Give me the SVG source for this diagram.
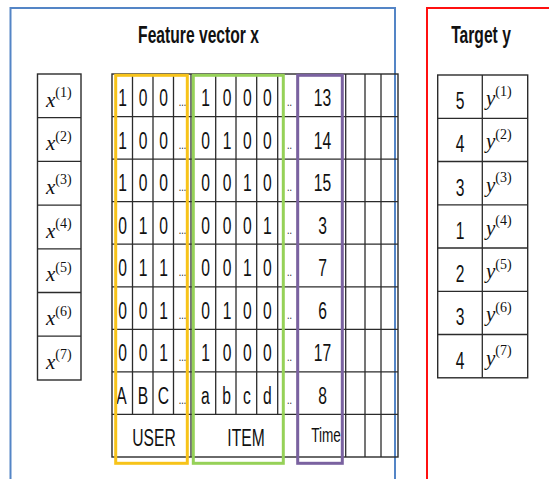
<svg xmlns="http://www.w3.org/2000/svg" width="549" height="479" viewBox="0 0 549 479">
  <style>
    .grid line, .tbl line { stroke: #2b2b2b; stroke-width: 1.3; }
    .tbl rect, .grid rect { fill: none; stroke: #2b2b2b; stroke-width: 1.4; }
    text { font-family: "Liberation Sans", Arial, sans-serif; fill: #111; text-anchor: middle; }
    .t { font-size: 23px; font-weight: bold; }
    .n { font-size: 23px; }
    .w { font-size: 23px; }
    .s { font-size: 20px; }
    .d { font-size: 13px; }
    .m { font-family: "Liberation Serif", "Times New Roman", serif; font-style: italic; font-size: 21px; text-anchor: start; }
    .m tspan { font-style: normal; font-size: 14px; }
    .frame { fill: none; stroke-width: 2; }
    .hl { fill: none; stroke-width: 3; }
  </style>

  <rect width="549" height="479" fill="#fff"/>

  <!-- outer panels -->
  <g id="feature-panel">
    <rect class="frame" x="10.5" y="8" width="384.5" height="472" stroke="#5485c6"/>
    <text class="t" transform="translate(198.5 43) scale(.68 1)">Feature vector x</text>
  </g>
  <g id="target-panel">
    <rect class="frame" x="427" y="8" width="130" height="472" stroke="#ff1010"/>
    <text class="t" transform="translate(481 43) scale(.68 1)">Target y</text>
  </g>

  <!-- sample index column x(1)..x(7) -->
  <g id="samples" class="tbl">
    <rect x="37.5" y="74" width="43.5" height="306"/>
    <line x1="37.5" y1="117.7" x2="81" y2="117.7"/>
    <line x1="37.5" y1="161.4" x2="81" y2="161.4"/>
    <line x1="37.5" y1="205.1" x2="81" y2="205.1"/>
    <line x1="37.5" y1="248.8" x2="81" y2="248.8"/>
    <line x1="37.5" y1="292.5" x2="81" y2="292.5"/>
    <line x1="37.5" y1="336.2" x2="81" y2="336.2"/>
    <text class="m" x="46" y="106.5">x<tspan dy="-9.5">(1)</tspan></text>
    <text class="m" x="46" y="150.2">x<tspan dy="-9.5">(2)</tspan></text>
    <text class="m" x="46" y="193.9">x<tspan dy="-9.5">(3)</tspan></text>
    <text class="m" x="46" y="237.6">x<tspan dy="-9.5">(4)</tspan></text>
    <text class="m" x="46" y="281.3">x<tspan dy="-9.5">(5)</tspan></text>
    <text class="m" x="46" y="325">x<tspan dy="-9.5">(6)</tspan></text>
    <text class="m" x="46" y="368.7">x<tspan dy="-9.5">(7)</tspan></text>
  </g>

  <!-- feature matrix -->
  <g id="features" class="grid">
    <rect x="112" y="74" width="286" height="383"/>
    <!-- row rules -->
    <line x1="112" y1="116.6" x2="398" y2="116.6"/>
    <line x1="112" y1="159.1" x2="398" y2="159.1"/>
    <line x1="112" y1="201.7" x2="398" y2="201.7"/>
    <line x1="112" y1="244.2" x2="398" y2="244.2"/>
    <line x1="112" y1="286.8" x2="398" y2="286.8"/>
    <line x1="112" y1="329.3" x2="398" y2="329.3"/>
    <line x1="112" y1="371.9" x2="398" y2="371.9"/>
    <line x1="112" y1="414.4" x2="398" y2="414.4"/>
    <!-- column rules inside the one-hot blocks -->
    <line x1="132.5" y1="74" x2="132.5" y2="414.4"/>
    <line x1="153" y1="74" x2="153" y2="414.4"/>
    <line x1="173.5" y1="74" x2="173.5" y2="414.4"/>
    <line x1="215.7" y1="74" x2="215.7" y2="414.4"/>
    <line x1="236" y1="74" x2="236" y2="414.4"/>
    <line x1="256.7" y1="74" x2="256.7" y2="414.4"/>
    <line x1="277.7" y1="74" x2="277.7" y2="414.4"/>
    <!-- block separators, full height -->
    <line x1="191" y1="74" x2="191" y2="457"/>
    <line x1="297.5" y1="74" x2="297.5" y2="457"/>
    <line x1="345.7" y1="74" x2="345.7" y2="457"/>
    <line x1="365" y1="74" x2="365" y2="457"/>
    <line x1="381" y1="74" x2="381" y2="457"/>

    <!-- row 1 -->
    <text class="n" transform="translate(122.5 106) scale(.68 1)">1</text>
    <text class="n" transform="translate(143.2 106) scale(.68 1)">0</text>
    <text class="n" transform="translate(163.6 106) scale(.68 1)">0</text>
    <text class="d" transform="translate(182.5 106) scale(.68 1)">...</text>
    <text class="n" transform="translate(205.5 106) scale(.68 1)">1</text>
    <text class="n" transform="translate(227 106) scale(.68 1)">0</text>
    <text class="n" transform="translate(247.3 106) scale(.68 1)">0</text>
    <text class="n" transform="translate(267.3 106) scale(.68 1)">0</text>
    <text class="d" transform="translate(289.5 106) scale(.68 1)">..</text>
    <text class="n" transform="translate(322.5 106) scale(.68 1)">13</text>
    <!-- row 2 -->
    <text class="n" transform="translate(122.5 148.6) scale(.68 1)">1</text>
    <text class="n" transform="translate(143.2 148.6) scale(.68 1)">0</text>
    <text class="n" transform="translate(163.6 148.6) scale(.68 1)">0</text>
    <text class="d" transform="translate(182.5 148.6) scale(.68 1)">...</text>
    <text class="n" transform="translate(205.5 148.6) scale(.68 1)">0</text>
    <text class="n" transform="translate(227 148.6) scale(.68 1)">1</text>
    <text class="n" transform="translate(247.3 148.6) scale(.68 1)">0</text>
    <text class="n" transform="translate(267.3 148.6) scale(.68 1)">0</text>
    <text class="d" transform="translate(289.5 148.6) scale(.68 1)">..</text>
    <text class="n" transform="translate(322.5 148.6) scale(.68 1)">14</text>
    <!-- row 3 -->
    <text class="n" transform="translate(122.5 191.1) scale(.68 1)">1</text>
    <text class="n" transform="translate(143.2 191.1) scale(.68 1)">0</text>
    <text class="n" transform="translate(163.6 191.1) scale(.68 1)">0</text>
    <text class="d" transform="translate(182.5 191.1) scale(.68 1)">...</text>
    <text class="n" transform="translate(205.5 191.1) scale(.68 1)">0</text>
    <text class="n" transform="translate(227 191.1) scale(.68 1)">0</text>
    <text class="n" transform="translate(247.3 191.1) scale(.68 1)">1</text>
    <text class="n" transform="translate(267.3 191.1) scale(.68 1)">0</text>
    <text class="d" transform="translate(289.5 191.1) scale(.68 1)">..</text>
    <text class="n" transform="translate(322.5 191.1) scale(.68 1)">15</text>
    <!-- row 4 -->
    <text class="n" transform="translate(122.5 233.7) scale(.68 1)">0</text>
    <text class="n" transform="translate(143.2 233.7) scale(.68 1)">1</text>
    <text class="n" transform="translate(163.6 233.7) scale(.68 1)">0</text>
    <text class="d" transform="translate(182.5 233.7) scale(.68 1)">...</text>
    <text class="n" transform="translate(205.5 233.7) scale(.68 1)">0</text>
    <text class="n" transform="translate(227 233.7) scale(.68 1)">0</text>
    <text class="n" transform="translate(247.3 233.7) scale(.68 1)">0</text>
    <text class="n" transform="translate(267.3 233.7) scale(.68 1)">1</text>
    <text class="d" transform="translate(289.5 233.7) scale(.68 1)">..</text>
    <text class="n" transform="translate(322.5 233.7) scale(.68 1)">3</text>
    <!-- row 5 -->
    <text class="n" transform="translate(122.5 276.2) scale(.68 1)">0</text>
    <text class="n" transform="translate(143.2 276.2) scale(.68 1)">1</text>
    <text class="n" transform="translate(163.6 276.2) scale(.68 1)">1</text>
    <text class="d" transform="translate(182.5 276.2) scale(.68 1)">...</text>
    <text class="n" transform="translate(205.5 276.2) scale(.68 1)">0</text>
    <text class="n" transform="translate(227 276.2) scale(.68 1)">0</text>
    <text class="n" transform="translate(247.3 276.2) scale(.68 1)">1</text>
    <text class="n" transform="translate(267.3 276.2) scale(.68 1)">0</text>
    <text class="d" transform="translate(289.5 276.2) scale(.68 1)">..</text>
    <text class="n" transform="translate(322.5 276.2) scale(.68 1)">7</text>
    <!-- row 6 -->
    <text class="n" transform="translate(122.5 318.8) scale(.68 1)">0</text>
    <text class="n" transform="translate(143.2 318.8) scale(.68 1)">0</text>
    <text class="n" transform="translate(163.6 318.8) scale(.68 1)">1</text>
    <text class="d" transform="translate(182.5 318.8) scale(.68 1)">...</text>
    <text class="n" transform="translate(205.5 318.8) scale(.68 1)">0</text>
    <text class="n" transform="translate(227 318.8) scale(.68 1)">1</text>
    <text class="n" transform="translate(247.3 318.8) scale(.68 1)">0</text>
    <text class="n" transform="translate(267.3 318.8) scale(.68 1)">0</text>
    <text class="d" transform="translate(289.5 318.8) scale(.68 1)">..</text>
    <text class="n" transform="translate(322.5 318.8) scale(.68 1)">6</text>
    <!-- row 7 -->
    <text class="n" transform="translate(122.5 361.3) scale(.68 1)">0</text>
    <text class="n" transform="translate(143.2 361.3) scale(.68 1)">0</text>
    <text class="n" transform="translate(163.6 361.3) scale(.68 1)">1</text>
    <text class="d" transform="translate(182.5 361.3) scale(.68 1)">...</text>
    <text class="n" transform="translate(205.5 361.3) scale(.68 1)">1</text>
    <text class="n" transform="translate(227 361.3) scale(.68 1)">0</text>
    <text class="n" transform="translate(247.3 361.3) scale(.68 1)">0</text>
    <text class="n" transform="translate(267.3 361.3) scale(.68 1)">0</text>
    <text class="d" transform="translate(289.5 361.3) scale(.68 1)">..</text>
    <text class="n" transform="translate(322.5 361.3) scale(.68 1)">17</text>
    <!-- row 8: column ids -->
    <text class="n" transform="translate(121.5 403.9) scale(.68 1)">A</text>
    <text class="n" transform="translate(143 403.9) scale(.68 1)">B</text>
    <text class="n" transform="translate(163.3 403.9) scale(.68 1)">C</text>
    <text class="d" transform="translate(182.5 403.9) scale(.68 1)">...</text>
    <text class="n" transform="translate(205.3 403.9) scale(.68 1)">a</text>
    <text class="n" transform="translate(226.5 403.9) scale(.68 1)">b</text>
    <text class="n" transform="translate(247 403.9) scale(.68 1)">c</text>
    <text class="n" transform="translate(267.3 403.9) scale(.68 1)">d</text>
    <text class="d" transform="translate(289.5 403.9) scale(.68 1)">..</text>
    <text class="n" transform="translate(322.5 403.9) scale(.68 1)">8</text>
    <!-- row 9: block names -->
    <text class="w" transform="translate(154 445.7) scale(.68 1)">USER</text>
    <text class="w" transform="translate(246 445.7) scale(.68 1)">ITEM</text>
    <text class="s" transform="translate(326 441.7) scale(.68 1)">Time</text>
  </g>

  <!-- block highlights -->
  <g id="user-block"><rect class="hl" x="115.7" y="75.3" width="71.6" height="388" stroke="#f7c31a"/></g>
  <g id="item-block"><rect class="hl" x="193.3" y="75.3" width="90" height="388" stroke="#96d158"/></g>
  <g id="time-block"><rect class="hl" x="297.7" y="75.3" width="44.6" height="388" stroke="#7a62a0"/></g>

  <!-- target values -->
  <g id="targets" class="tbl">
    <rect x="437.7" y="75" width="90" height="302.8"/>
    <line x1="482.3" y1="75" x2="482.3" y2="377.8"/>
    <line x1="437.7" y1="118.3" x2="527.7" y2="118.3"/>
    <line x1="437.7" y1="161.5" x2="527.7" y2="161.5"/>
    <line x1="437.7" y1="204.8" x2="527.7" y2="204.8"/>
    <line x1="437.7" y1="248" x2="527.7" y2="248"/>
    <line x1="437.7" y1="291.3" x2="527.7" y2="291.3"/>
    <line x1="437.7" y1="334.5" x2="527.7" y2="334.5"/>
    <text class="n" transform="translate(460 109) scale(.68 1)">5</text>
    <text class="n" transform="translate(460 152.3) scale(.68 1)">4</text>
    <text class="n" transform="translate(460 195.5) scale(.68 1)">3</text>
    <text class="n" transform="translate(460 238.8) scale(.68 1)">1</text>
    <text class="n" transform="translate(460 282) scale(.68 1)">2</text>
    <text class="n" transform="translate(460 325.3) scale(.68 1)">3</text>
    <text class="n" transform="translate(460 368.5) scale(.68 1)">4</text>
    <text class="m" x="486" y="105">y<tspan dy="-9.5">(1)</tspan></text>
    <text class="m" x="486" y="148.3">y<tspan dy="-9.5">(2)</tspan></text>
    <text class="m" x="486" y="191.5">y<tspan dy="-9.5">(3)</tspan></text>
    <text class="m" x="486" y="234.8">y<tspan dy="-9.5">(4)</tspan></text>
    <text class="m" x="486" y="278">y<tspan dy="-9.5">(5)</tspan></text>
    <text class="m" x="486" y="321.3">y<tspan dy="-9.5">(6)</tspan></text>
    <text class="m" x="486" y="364.5">y<tspan dy="-9.5">(7)</tspan></text>
  </g>
</svg>
